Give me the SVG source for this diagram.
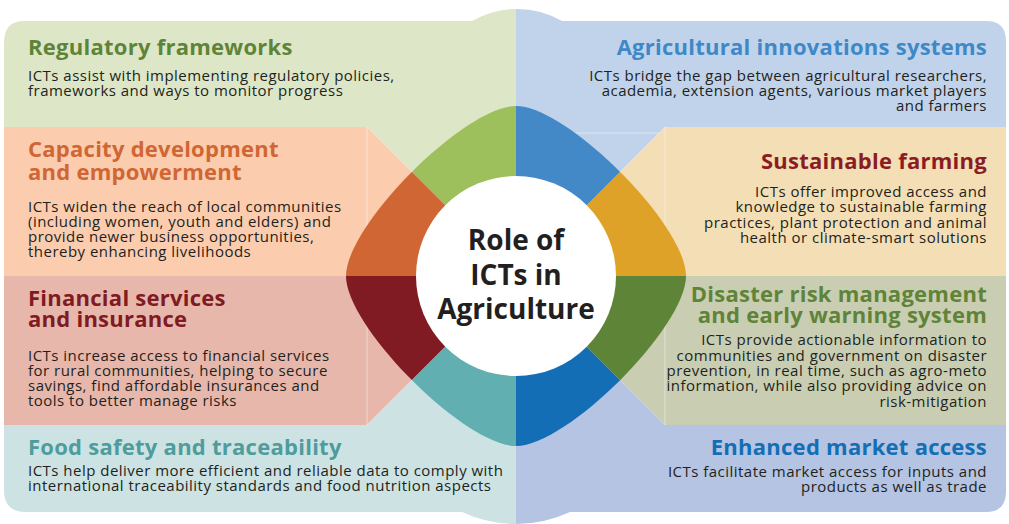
<svg xmlns="http://www.w3.org/2000/svg" width="1009" height="524" viewBox="0 0 1009 524">
<style>
.t{font-family:"Open Sans","Noto Sans","Liberation Sans",sans-serif;font-weight:700;font-size:22px;letter-spacing:0.26px}
.b{font-family:"Open Sans","Noto Sans","Liberation Sans",sans-serif;font-size:15px;letter-spacing:0.48px;fill:#231f20}
.c{font-family:"Open Sans","Noto Sans","Liberation Sans",sans-serif;font-weight:700;font-size:28px;fill:#231f20;text-anchor:middle}
.r{text-anchor:end}
.sep{stroke:#fff;stroke-opacity:.45;stroke-width:1;fill:none}
</style>
<defs>
<clipPath id="bg"><path d="M24 21H472A90 90 0 0 1 562 21H986Q1006 21 1006 41V492Q1006 512 986 512H570A127.5 127.5 0 0 1 462 512H26Q4 512 4 490V43Q4 21 24 21Z"/></clipPath>
<clipPath id="fl"><path d="M516 106C465 106 346 225 346 276C346 327 465 446 516 446C567 446 686 327 686 276C686 225 567 106 516 106Z"/></clipPath>
</defs>

<g id="regulatory">
<polygon clip-path="url(#bg)" points="0,0 516,0 516,276 367,127 0,127" fill="#dde7c8"/>
<text class="t" x="28" y="55" fill="#5f8438">Regulatory frameworks</text>
<text class="b" x="28" y="81">ICTs assist with implementing regulatory policies,</text>
<text class="b" x="28" y="96">frameworks and ways to monitor progress</text>
</g>

<g id="capacity">
<polygon clip-path="url(#bg)" points="0,127 367,127 516,276 0,276" fill="#fbcdae"/>
<text class="t" x="28" y="157" fill="#d06634">Capacity development</text>
<text class="t" x="28" y="179.5" fill="#d06634">and empowerment</text>
<text class="b" x="28" y="212">ICTs widen the reach of local communities</text>
<text class="b" x="28" y="227">(including women, youth and elders) and</text>
<text class="b" x="28" y="242">provide newer business opportunities,</text>
<text class="b" x="28" y="257">thereby enhancing livelihoods</text>
</g>

<g id="financial">
<polygon clip-path="url(#bg)" points="0,276 516,276 367,425 0,425" fill="#e8b7ab"/>
<text class="t" x="28" y="305.5" fill="#801a23">Financial services</text>
<text class="t" x="28" y="327" fill="#801a23">and insurance</text>
<text class="b" x="28" y="361">ICTs increase access to financial services</text>
<text class="b" x="28" y="376">for rural communities, helping to secure</text>
<text class="b" x="28" y="391">savings, find affordable insurances and</text>
<text class="b" x="28" y="406">tools to better manage risks</text>
</g>

<g id="food-safety">
<polygon clip-path="url(#bg)" points="0,425 367,425 516,276 516,524 0,524" fill="#cde3e3"/>
<text class="t" x="28" y="455" fill="#4f9c9d">Food safety and traceability</text>
<text class="b" x="28" y="476">ICTs help deliver more efficient and reliable data to comply with</text>
<text class="b" x="28" y="491">international traceability standards and food nutrition aspects</text>
</g>

<g id="agri-innovation">
<polygon clip-path="url(#bg)" points="516,0 1009,0 1009,127 665,127 516,276" fill="#c0d3ea"/>
<text class="t r" x="987" y="55" fill="#3f88c8">Agricultural innovations systems</text>
<text class="b r" x="987" y="81">ICTs bridge the gap between agricultural researchers,</text>
<text class="b r" x="987" y="96">academia, extension agents, various market players</text>
<text class="b r" x="987" y="111">and farmers</text>
</g>

<g id="sustainable">
<polygon clip-path="url(#bg)" points="665,127 1009,127 1009,276 516,276" fill="#f3deb5"/>
<text class="t r" x="987" y="168.5" fill="#8b1c24">Sustainable farming</text>
<text class="b r" x="987" y="197">ICTs offer improved access and</text>
<text class="b r" x="987" y="212">knowledge to sustainable farming</text>
<text class="b r" x="987" y="228">practices, plant protection and animal</text>
<text class="b r" x="987" y="243">health or climate-smart solutions</text>
</g>

<g id="disaster">
<polygon clip-path="url(#bg)" points="516,276 1009,276 1009,425 665,425" fill="#c9ceb2"/>
<text class="t r" x="987" y="301.5" fill="#5f8438">Disaster risk management</text>
<text class="t r" x="987" y="323" fill="#5f8438">and early warning system</text>
<text class="b r" x="987" y="345">ICTs provide actionable information to</text>
<text class="b r" x="987" y="361">communities and government on disaster</text>
<text class="b r" x="987" y="376">prevention, in real time, such as agro-meto</text>
<text class="b r" x="987" y="391">information, while also providing advice on</text>
<text class="b r" x="987" y="407">risk-mitigation</text>
</g>

<g id="market-access">
<polygon clip-path="url(#bg)" points="665,425 1009,425 1009,524 516,524 516,276" fill="#b4c4e2"/>
<text class="t r" x="987" y="455" fill="#136eb5">Enhanced market access</text>
<text class="b r" x="987" y="477">ICTs facilitate market access for inputs and</text>
<text class="b r" x="987" y="492">products as well as trade</text>
</g>

<g id="separators" class="sep">
<line x1="367" y1="127" x2="367" y2="425"/>
<line x1="665" y1="127" x2="665" y2="425"/>
<line x1="516" y1="133" x2="659" y2="133"/>
</g>

<g id="petals" clip-path="url(#fl)">
<polygon points="516,276 516,76 316,76" fill="#9dc05c"/>
<polygon points="516,276 316,76 316,276" fill="#d06634"/>
<polygon points="516,276 316,276 316,476" fill="#801a23"/>
<polygon points="516,276 316,476 516,476" fill="#62afb1"/>
<polygon points="516,276 516,476 716,476" fill="#136eb5"/>
<polygon points="516,276 716,476 716,276" fill="#5e8438"/>
<polygon points="516,276 716,276 716,76" fill="#dfa228"/>
<polygon points="516,276 716,76 516,76" fill="#4389c8"/>
</g>

<g id="center">
<circle cx="516" cy="276" r="100" fill="#fff"/>
<text class="c" x="516" y="249.5">Role of</text>
<text class="c" x="516" y="284.5">ICTs in</text>
<text class="c" x="516" y="318.5">Agriculture</text>
</g>
</svg>
